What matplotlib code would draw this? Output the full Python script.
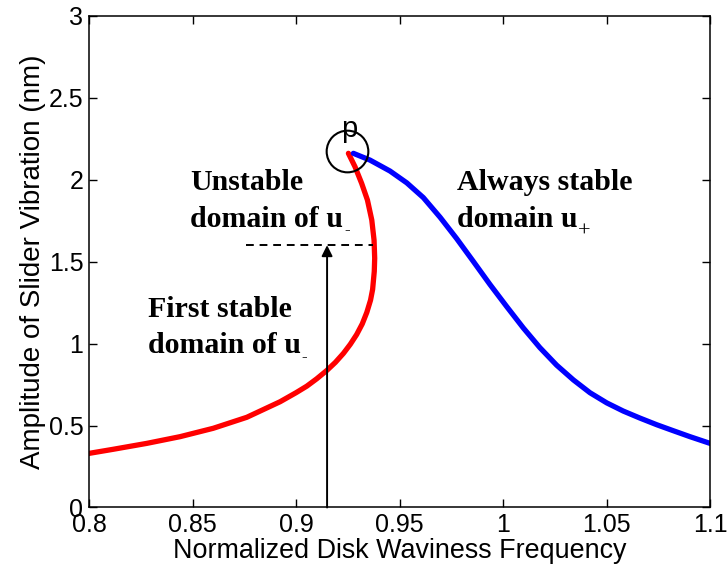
import numpy as np
import matplotlib.pyplot as plt

plt.rcParams['font.family'] = ['Liberation Sans', 'DejaVu Sans']

# lower branch u- (red): rises from the left, bends back at the turning point
u_minus_freq = [0.8000, 0.8117, 0.8279, 0.8440, 0.8600, 0.8762, 0.8923, 0.9000,
                0.9052, 0.9100, 0.9148, 0.9190, 0.9229, 0.9262, 0.9293, 0.9320,
                0.9342, 0.9360, 0.9370, 0.9378, 0.9380, 0.9377, 0.9366, 0.9345,
                0.9317, 0.9285, 0.9253]
u_minus_amp = [0.330, 0.355, 0.391, 0.432, 0.483, 0.550, 0.645, 0.700,
               0.740, 0.785, 0.835, 0.885, 0.940, 0.995, 1.055, 1.120,
               1.190, 1.265, 1.330, 1.440, 1.520, 1.630, 1.753, 1.875,
               1.977, 2.078, 2.160]

# upper branch u+ (blue)
u_plus_freq = [0.9277, 0.9357, 0.9454, 0.9535, 0.9615, 0.9696, 0.9776, 0.9857,
               0.9937, 1.0018, 1.0098, 1.0178, 1.0259, 1.0340, 1.0420, 1.0501,
               1.0581, 1.0662, 1.0742, 1.0823, 1.0903, 1.1000]
u_plus_amp = [2.160, 2.119, 2.052, 1.980, 1.890, 1.770, 1.640, 1.500,
              1.360, 1.225, 1.095, 0.975, 0.868, 0.778, 0.700, 0.638,
              0.588, 0.545, 0.505, 0.468, 0.432, 0.391]

xticks = [0.8, 0.85, 0.9, 0.95, 1, 1.05, 1.1]
xtick_labels = ['0.8', '0.85', '0.9', '0.95', '1', '1.05', '1.1']
yticks = [0, 0.5, 1, 1.5, 2, 2.5, 3]
ytick_labels = ['0', '0.5', '1', '1.5', '2', '2.5', '3']

# annotation positions
arrow_x = 0.915
jump_amp = 1.6
dash_x = [0.876, 0.937]
peak = (0.9248, 2.175)

fig = plt.figure(figsize=(7.28, 5.78), dpi=100)
ax = fig.add_axes([0.1223, 0.122, 0.853, 0.851])

ax.plot(u_minus_freq, u_minus_amp, color='#ff0000', lw=3.8,
        solid_capstyle='round', solid_joinstyle='round')
ax.plot(u_plus_freq, u_plus_amp, color='#0000ff', lw=3.8,
        solid_capstyle='round', solid_joinstyle='round')

# jump arrow and dashed threshold
ax.annotate('', xy=(arrow_x, jump_amp), xytext=(arrow_x, 0),
            arrowprops=dict(arrowstyle='-|>', color='k', lw=1.4,
                            mutation_scale=16, shrinkA=0, shrinkB=0))
ax.plot(dash_x, [jump_amp, jump_amp], color='k', ls=(0, (4, 3)), lw=1.4)

# circled turning point p
ax.plot(*peak, marker='o', ms=30, mfc='none', mec='k', mew=1.5)
ax.text(peak[0] + 0.001, 2.31, 'p', fontsize=21, ha='center', va='center')

bold = dict(fontsize=21.5, fontweight='bold', family='Liberation Serif',
            va='baseline', ha='left')


def label(x, y1, y2, line1, line2, sub, sub_size, sub_dy):
    ax.text(x, y1, line1, **bold)
    t = ax.text(x, y2, line2, **bold)
    ax.annotate(sub, xy=(1, 0), xycoords=t, xytext=(0.5, sub_dy),
                textcoords='offset points', fontsize=sub_size,
                family='Liberation Serif', ha='left', va='baseline')


label(0.849, 1.935, 1.71, 'Unstable', 'domain of u', '-', 12, -1.0)
label(0.8285, 1.16, 0.94, 'First stable', 'domain of u', '-', 12, -1.0)
label(0.9778, 1.935, 1.71, 'Always stable', 'domain u', '+', 16, -2.5)

ax.set_xlim(0.8, 1.1)
ax.set_ylim(0, 3)
ax.set_xticks(xticks)
ax.set_xticklabels(xtick_labels)
ax.set_yticks(yticks)
ax.set_yticklabels(ytick_labels)
ax.tick_params(direction='in', top=True, right=True, length=6, width=1,
               labelsize=18, pad=4)
for s in ax.spines.values():
    s.set_linewidth(1.1)

ax.set_xlabel('Normalized Disk Waviness Frequency', fontsize=19.4, labelpad=1)
ax.set_ylabel('Amplitude of Slider Vibration (nm)', fontsize=20, labelpad=2)

fig.savefig('out.png', dpi=100)
